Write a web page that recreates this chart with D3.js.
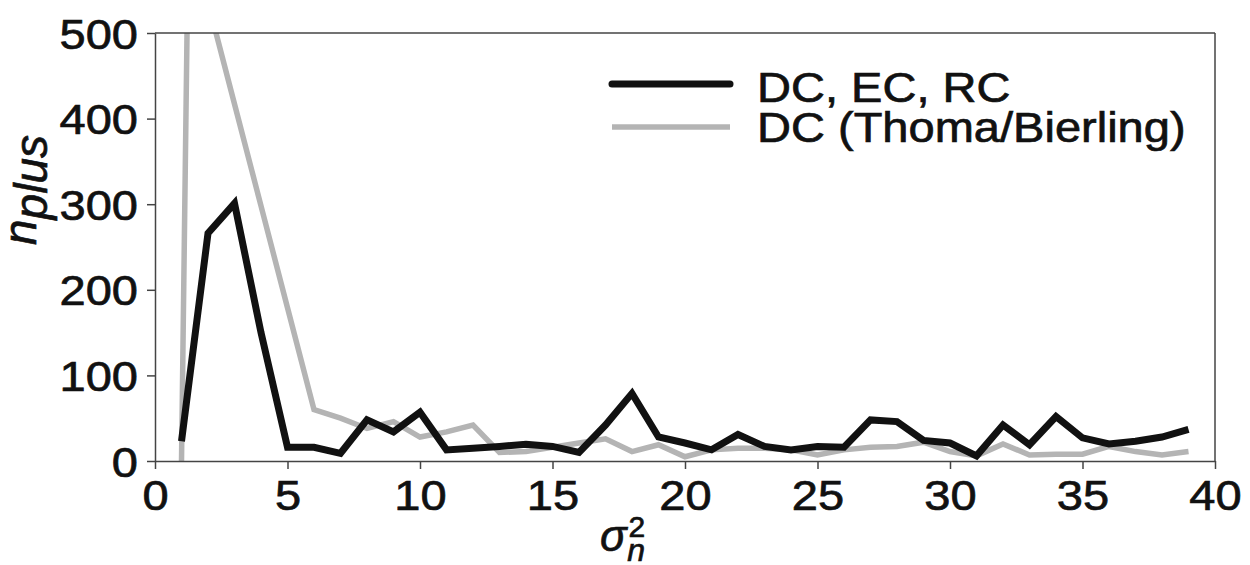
<!DOCTYPE html>
<html>
<head>
<meta charset="utf-8">
<script src="https://cdn.jsdelivr.net/npm/d3@7"></script>
<style>
  body { margin: 0; background: #fff; }
  svg text { font-family: "Liberation Sans", Arial, Helvetica, sans-serif; fill: #111; stroke: #111; stroke-width: 0.7px; }
</style>
</head>
<body>
<div id="chart"></div>
<script>

// sigma_n^2 values 1..39
var sigmaVals = d3.range(1, 40);

// DC, EC, RC  (black)
var dcEcRc = [23, 266, 301, 150, 16, 16, 9, 48, 34, 57, 13, 15, 17, 19.5, 17, 10, 42, 79, 28, 21,
              13, 31, 17, 13, 17, 16, 48, 46, 24, 21, 6, 42, 19, 52, 27, 20, 23, 28, 37];

// DC (Thoma/Bierling)  (gray) - first spike goes off the top, read as x/y pairs
var thomaX = [1, 1.25, 2, 3, 4, 5, 6, 7, 8, 9, 10, 11, 12, 13, 14, 15, 16, 17, 18, 19, 20,
              21, 22, 23, 24, 25, 26, 27, 28, 29, 30, 31, 32, 33, 34, 35, 36, 37, 38, 39];
var thomaY = [0, 600, 536, 417, 298, 179, 60, 50, 38, 46, 28, 34, 42, 10, 11, 16, 21, 26, 11, 19, 5,
              13, 15, 15, 13, 7, 13, 16, 17, 22, 11, 6, 20, 7, 8, 8, 17, 11, 7, 11];

var xTicks = [0, 5, 10, 15, 20, 25, 30, 35, 40];
var yTicks = [0, 100, 200, 300, 400, 500];

var legendNames = ["DC, EC, RC", "DC (Thoma/Bierling)"];

var W = 1250, H = 565;
var margin = {top: 33, right: 35, bottom: 104, left: 155};
var innerW = W - margin.left - margin.right;
var innerH = H - margin.top - margin.bottom;
var stretch = 1.12; // the original lettering is a little wider than Arial

var svg = d3.select("#chart")
  .append("svg")
  .attr("width", W)
  .attr("height", H);

var g = svg.append("g")
  .attr("transform", "translate(" + margin.left + "," + margin.top + ")");

var x = d3.scaleLinear().domain([0, 40]).range([0, innerW]);
var y = d3.scaleLinear().domain([0, 500]).range([innerH, 0]);

svg.append("defs").append("clipPath")
  .attr("id", "plotclip")
  .append("rect")
  .attr("x", 0)
  .attr("y", 0)
  .attr("width", innerW)
  .attr("height", innerH);

// lines
var blackPts = sigmaVals.map(function(s, i){ return [s, dcEcRc[i]]; });
var grayPts = thomaX.map(function(s, i){ return [s, thomaY[i]]; });

var line = d3.line()
  .x(function(d){ return x(d[0]); })
  .y(function(d){ return y(d[1]); });

var lines = g.append("g").attr("clip-path", "url(#plotclip)");

lines.append("path")
  .datum(grayPts)
  .attr("fill", "none")
  .attr("stroke", "#b4b4b4")
  .attr("stroke-width", 5.5)
  .attr("stroke-linejoin", "miter")
  .attr("d", line);

lines.append("path")
  .datum(blackPts)
  .attr("fill", "none")
  .attr("stroke", "#111")
  .attr("stroke-width", 7)
  .attr("stroke-linejoin", "miter")
  .attr("d", line);

// axes
var xAxis = g.append("g")
  .attr("transform", "translate(0," + innerH + ")")
  .call(d3.axisBottom(x).tickValues(xTicks).tickSize(8).tickSizeOuter(0));

var yAxis = g.append("g")
  .call(d3.axisLeft(y).tickValues(yTicks).tickSize(8).tickSizeOuter(0));

xAxis.selectAll("text")
  .attr("y", 49)
  .attr("dy", 0)
  .style("font-size", "42px")
  .attr("transform", "scale(" + stretch + ",1)");

yAxis.selectAll("text")
  .attr("x", -17 / stretch)
  .attr("dy", "0.36em")
  .style("font-size", "42px")
  .attr("transform", "scale(" + stretch + ",1)");

g.selectAll(".domain, .tick line")
  .attr("stroke", "#444")
  .attr("stroke-width", 1.5);

// top + right frame
g.append("line")
  .attr("x1", 0).attr("x2", innerW)
  .attr("y1", 0).attr("y2", 0)
  .attr("stroke", "#444").attr("stroke-width", 1.5);
g.append("line")
  .attr("x1", innerW).attr("x2", innerW)
  .attr("y1", 0).attr("y2", innerH)
  .attr("stroke", "#444").attr("stroke-width", 1.5);

// legend
var legendColors = ["#111", "#b4b4b4"];
var legendWidths = [7, 5.5];
var legendLineY = [84, 127];
var legendTextY = [101.5, 142];

legendNames.forEach(function(name, i){
  svg.append("line")
    .attr("x1", 612).attr("x2", 730)
    .attr("y1", legendLineY[i]).attr("y2", legendLineY[i])
    .attr("stroke", legendColors[i])
    .attr("stroke-width", legendWidths[i])
    .attr("stroke-linecap", i == 0 ? "round" : "butt");

  svg.append("text")
    .attr("transform", "translate(757," + legendTextY[i] + ") scale(" + stretch + ",1)")
    .style("font-size", "42px")
    .text(name);
});

// y label  n_plus
var ylab = svg.append("text")
  .attr("transform", "translate(36,190) rotate(-90)")
  .attr("text-anchor", "middle")
  .style("font-size", "46px")
  .style("font-style", "italic");
ylab.append("tspan").text("n");
ylab.append("tspan").attr("dy", 11).text("plus");

// x label  sigma_n^2
var xlab = svg.append("text")
  .attr("x", 600)
  .attr("y", 551)
  .style("font-size", "44px")
  .style("font-style", "italic");
xlab.append("tspan").text("σ");
xlab.append("tspan")
  .attr("dx", 2)
  .attr("dy", -14)
  .style("font-size", "30px")
  .style("font-style", "normal")
  .text("2");
xlab.append("tspan")
  .attr("dx", -18)
  .attr("dy", 24)
  .style("font-size", "32px")
  .text("n");

</script>
</body>
</html>
